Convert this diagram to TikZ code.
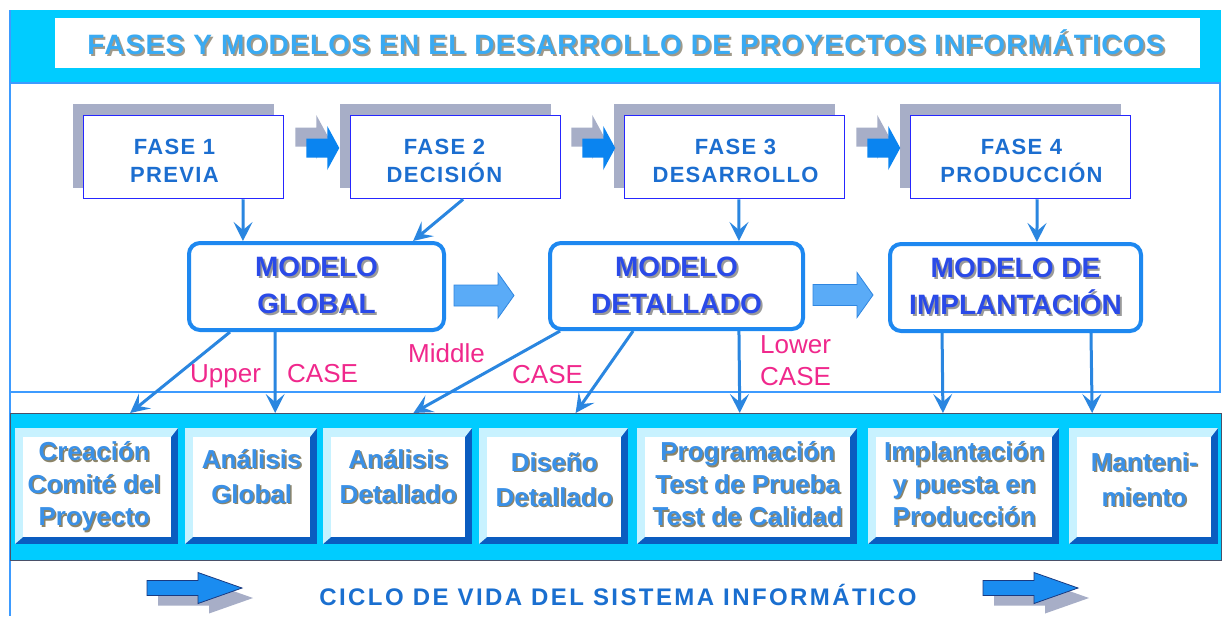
\documentclass[tikz,border=0pt]{standalone}
\usepackage{fontspec}
\setmainfont{Liberation Sans}
\newfontfamily\titlefont[LetterSpace=4.5]{Liberation Sans}
\newfontfamily\phasefont[LetterSpace=6.0]{Liberation Sans}
\newfontfamily\ciclofont[LetterSpace=10.0]{Liberation Sans}
\usetikzlibrary{arrows.meta,calc}
\pgfdeclarelayer{back}
\pgfdeclarelayer{bg}
\pgfsetlayers{back,bg,main}

\definecolor{cyanband}{HTML}{00CCFF}
\definecolor{framebl}{HTML}{3D9BFF}
\definecolor{titletxt}{HTML}{3AAAF2}
\definecolor{titlesh}{HTML}{A09A8A}
\definecolor{phshadow}{HTML}{A7AEC7}
\definecolor{phborder}{HTML}{2626FF}
\definecolor{phtext}{HTML}{1C6ED0}
\definecolor{pharrowc}{HTML}{0A84F0}
\definecolor{mdborder}{HTML}{1E88F0}
\definecolor{mdtext}{HTML}{2A4AE8}
\definecolor{mdsh}{HTML}{9A9A9A}
\definecolor{mdarrowc}{HTML}{5AABF7}
\definecolor{mdarrowln}{HTML}{2F86E0}
\definecolor{connc}{HTML}{2A86E0}
\definecolor{lblc}{HTML}{F0288C}
\definecolor{bandline}{HTML}{4A5068}
\definecolor{bevlight}{HTML}{C8F2FF}
\definecolor{bevdark}{HTML}{0A5CC0}
\definecolor{boxtxt}{HTML}{3A90E6}
\definecolor{boxsh}{HTML}{8C8468}
\definecolor{ciclotxt}{HTML}{1A6FD0}
\definecolor{bigarrowc}{HTML}{1A8CF0}
\definecolor{bigarrowln}{HTML}{1A3A80}

\newcommand\shl[3]{\makebox[0pt][l]{\kern#2\raisebox{-#2}{\textcolor{#1}{#3}}}#3}
\newcommand\bt[1]{\shl{boxsh}{1.5pt}{#1}}
\newcommand\mt[1]{\shl{mdsh}{2pt}{#1}}
\newcommand\bevbox[5]{%
  \fill[bevdark] (#2,#3) rectangle (#4,#5);
  \fill[bevlight] (#2,#3) -- (#4,#3) -- ([xshift=-7pt,yshift=-9pt]#4,#3) -- ([xshift=8pt,yshift=-9pt]#2,#3) -- ([xshift=8pt,yshift=7pt]#2,#5) -- (#2,#5) -- cycle;
  \node[facebox, anchor=north west, minimum width={#4pt-#2pt-15pt}, minimum height={#5pt-#3pt-16pt}] (#1) at ([xshift=8pt,yshift=-9pt]#2,#3) {};
}

\tikzset{
  pics/pharr/.style={code={
    \fill[phshadow, shift={(-11,-11)}] (0,-9.5) -- (21,-9.5) -- (21,-22) -- (33,0) -- (21,22) -- (21,9.5) -- (0,9.5) -- cycle;
    \fill[pharrowc] (0,-9.5) -- (21,-9.5) -- (21,-22) -- (33,0) -- (21,22) -- (21,9.5) -- (0,9.5) -- cycle;
  }},
  pics/mdarr/.style={code={
    \filldraw[fill=mdarrowc, draw=mdarrowln, line width=0.8pt] (0,-10.5) -- (44,-10.5) -- (44,-22.5) -- (60,0) -- (44,22.5) -- (44,10.5) -- (0,10.5) -- cycle;
  }},
  pics/bigarr/.style={code={
    \fill[phshadow, shift={(11,10)}] (0,-7.5) -- (51,-7.5) -- (51,-15.5) -- (95,0) -- (51,15.5) -- (51,7.5) -- (0,7.5) -- cycle;
    \filldraw[fill=bigarrowc, draw=bigarrowln, line width=0.8pt] (0,-7.5) -- (51,-7.5) -- (51,-15.5) -- (95,0) -- (51,15.5) -- (51,7.5) -- (0,7.5) -- cycle;
  }}
}

\begin{document}
\begin{tikzpicture}[x=1pt,y=-1pt,
  connector/.style={draw=connc, line width=3pt, -{Stealth[length=19pt,width=19pt,inset=8pt]}},
  phasebox/.style={draw=phborder, line width=1.5pt, fill=white, inner sep=0pt, minimum height=83pt},
  phasetext/.style={font=\phasefont\bfseries\fontsize{22}{28}\selectfont, text=phtext, align=center, inner sep=0pt},
  modelbox/.style={draw=mdborder, line width=4pt, rounded corners=11pt, fill=white, inner sep=0pt, align=center, text=mdtext, font=\bfseries\fontsize{28}{37}\selectfont},
  facebox/.style={fill=white, inner sep=0pt},
  boxtext/.style={font=\bfseries\fontsize{26}{32.5}\selectfont, text=boxtxt, align=center, inner sep=0pt},
  boxtexttwo/.style={boxtext, font=\bfseries\fontsize{26}{35}\selectfont},
  lbl/.style={font=\fontsize{26}{30}\selectfont, text=lblc, inner sep=0pt, anchor=base west},
]
\useasboundingbox (0,0) rectangle (1222,616);

% panels
\begin{pgfonlayer}{back}
  \fill[white] (0,0) rectangle (1222,616);
  \fill[cyanband] (10,10) rectangle (1221,83);
  \fill[white] (55,18) rectangle (1200,68);
  \filldraw[fill=white, draw=framebl, line width=1.2pt] (10,83) rectangle (1220,392);
  \draw[framebl, line width=1.2pt] (10,10) -- (10,616);
  \node[draw=bandline, line width=1.2pt, fill=cyanband, minimum width=1211pt, minimum height=147pt, anchor=north west, inner sep=0pt] (band) at (10,413) {};
\end{pgfonlayer}

% title
\node[font=\titlefont\bfseries\fontsize{28}{30}\selectfont, text=titletxt, inner sep=0pt] (title) at (626,43) {\shl{titlesh}{2pt}{FASES Y MODELOS EN EL DESARROLLO DE PROYECTOS INFORMÁTICOS}};

% phase boxes
\node[phasebox, minimum width=200pt] (f1) at (183.5,157) {};
\node[phasebox, minimum width=210pt] (f2) at (455.5,157) {};
\node[phasebox, minimum width=220pt] (f3) at (734.5,157) {};
\node[phasebox, minimum width=220pt] (f4) at (1020.5,157) {};
\begin{pgfonlayer}{bg}
  \foreach \f in {f1,f2,f3,f4}{
    \fill[phshadow] ([shift={(-10,-11)}]\f.north west) rectangle ([shift={(-10,-11)}]\f.south east);
  }
\end{pgfonlayer}
\node[phasetext] (f1t) at ($(f1.center)+(-9,4)$) {FASE 1\\PREVIA};
\node[phasetext] (f2t) at ($(f2.center)+(-11,4)$) {FASE 2\\DECISIÓN};
\node[phasetext] (f3t) at ($(f3.center)+(1,4)$) {FASE 3\\DESARROLLO};
\node[phasetext] (f4t) at ($(f4.center)+(1,4)$) {FASE 4\\PRODUCCIÓN};
\pic at ($(f1.east)+(22,-9)$) {pharr};
\pic at ($(f2.east)+(21,-9)$) {pharr};
\pic at ($(f3.east)+(22,-9)$) {pharr};

% model boxes
\node[modelbox, minimum width=255pt, minimum height=87pt] (mg) at (316.5,286.5) {\mt{MODELO}\\\mt{GLOBAL}};
\node[modelbox, minimum width=253pt, minimum height=86pt] (md) at (676.5,286) {\mt{MODELO}\\\mt{DETALLADO}};
\node[modelbox, minimum width=251pt, minimum height=87pt] (mi) at (1015.5,287.5) {\mt{MODELO DE}\\\mt{IMPLANTACIÓN}};
\pic at ($(mg.east)+(8,9)$) {mdarr};
\pic at ($(md.east)+(8,9)$) {mdarr};

% bottom boxes
\bevbox{b1}{15}{428}{178}{544}
\bevbox{b2}{185}{428}{317}{544}
\bevbox{b3}{323}{428}{472}{544}
\bevbox{b4}{479}{428}{628}{544}
\bevbox{b5}{637}{428}{857}{544}
\bevbox{b6}{868}{428}{1059}{544}
\bevbox{b7}{1069}{428}{1218}{544}
\node[boxtext] (b1t) at ($(b1.center)+(-3,0)$) {\bt{Creación}\\\bt{Comité del}\\\bt{Proyecto}};
\node[boxtexttwo] (b2t) at ($(b2.center)+(0,-10)$) {\bt{Análisis}\\\bt{Global}};
\node[boxtexttwo] (b3t) at ($(b3.center)+(0,-10)$) {\bt{Análisis}\\\bt{Detallado}};
\node[boxtexttwo] (b4t) at ($(b4.center)+(0,-7)$) {\bt{Diseño}\\\bt{Detallado}};
\node[boxtext] (b5t) at ($(b5.center)+(0,-2.5)$) {\bt{Programación}\\\bt{Test de Prueba}\\\bt{Test de Calidad}};
\node[boxtext] (b6t) at ($(b6.center)+(0,-2.5)$) {\bt{Implantación}\\\bt{y puesta en}\\\bt{Producción}};
\node[boxtexttwo] (b7t) at ($(b7.center)+(0,-7)$) {\bt{Manteni-}\\\bt{miento}};

% connectors
\draw[connector] ($(f1.south west)!0.796!(f1.south east)$) -- ($(mg.north west)!0.216!(mg.north east)$);
\draw[connector] ($(f2.south west)!0.536!(f2.south east)$) -- ($(mg.north west)!0.873!(mg.north east)$);
\draw[connector] ($(f3.south west)!0.520!(f3.south east)$) -- ($(md.north west)!0.743!(md.north east)$);
\draw[connector] ($(f4.south west)!0.575!(f4.south east)$) -- ($(mi.north west)!0.584!(mi.north east)$);
\draw[connector] ($(mg.south west)!0.166!(mg.south east)$) -- ($(band.north west)!0.0991!(band.north east)$);
\draw[connector] ($(mg.south west)!0.340!(mg.south east)$) -- ($(band.north west)!0.2188!(band.north east)$);
\draw[connector] ($(md.south west)!0.047!(md.south east)$) -- ($(band.north west)!0.3328!(band.north east)$);
\draw[connector] ($(md.south west)!0.331!(md.south east)$) -- ($(band.north west)!0.4666!(band.north east)$);
\draw[connector] ($(md.south west)!0.743!(md.south east)$) -- ($(band.north west)!0.6020!(band.north east)$);
\draw[connector] ($(mi.south west)!0.212!(mi.south east)$) -- ($(band.north west)!0.7696!(band.north east)$);
\draw[connector] ($(mi.south west)!0.796!(mi.south east)$) -- ($(band.north west)!0.8927!(band.north east)$);

% labels
\node[lbl] (lup) at (190,382) {Upper};
\node[lbl] (lupc) at (287,382) {CASE};
\node[lbl] (lmid) at (408,362) {Middle};
\node[lbl] (lmidc) at (512,383) {CASE};
\node[lbl] (llow) at (760,353) {Lower};
\node[lbl] (llowc) at (760,385) {CASE};

% bottom
\node[font=\ciclofont\bfseries\fontsize{24}{26}\selectfont, text=ciclotxt, inner sep=0pt] (ciclo) at (618,595) {CICLO DE VIDA DEL SISTEMA INFORMÁTICO};
\pic at ($(ciclo.center)+(-471,-7)$) {bigarr};
\pic at ($(ciclo.center)+(365,-7)$) {bigarr};
\end{tikzpicture}
\end{document}
